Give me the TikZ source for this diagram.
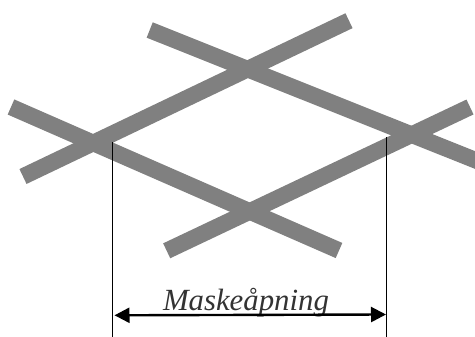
\documentclass[tikz,border=0pt]{standalone}
\usepackage{fontspec}
\setmainfont{Liberation Serif}
\usetikzlibrary{arrows.meta}
\tikzset{
  bar/.style={draw=barGray,line width=16.5pt,line cap=butt},
  guide/.style={draw=black,line width=1.2pt},
  dim/.style={draw=black,line width=2.4pt,{Triangle[length=15pt,width=15pt]}-{Triangle[length=15pt,width=15pt]},shorten <=0pt,shorten >=0pt},
  lbl/.style={inner sep=0pt,anchor=base,text=black!80,font=\fontsize{30.8}{32}\selectfont\itshape}
}
\definecolor{barGray}{RGB}{128,128,128}
\begin{document}
\begin{tikzpicture}[x=1pt,y=-1pt]
\useasboundingbox (0,0) rectangle (475,337);
\clip (0,0) rectangle (475,337);
\coordinate (a1) at (23,176.5);
\coordinate (a2) at (349,20.7);
\coordinate (b1) at (149.7,30);
\coordinate (b2) at (490,166);
\coordinate (c1) at (11,107);
\coordinate (c2) at (339,250.5);
\coordinate (d1) at (166.7,250.8);
\coordinate (d2) at (470,107);
\coordinate (g1t) at (112.8,142);
\coordinate (g1b) at (112.8,337);
\coordinate (g2t) at (386.4,137);
\coordinate (g2b) at (386.4,337);
\coordinate (dl) at (114.5,315.3);
\coordinate (dr) at (386,314.5);
\draw[bar] (a1) -- (a2);
\draw[bar] (b1) -- (b2);
\draw[bar] (c1) -- (c2);
\draw[bar] (d1) -- (d2);
\draw[guide] (g1t) -- (g1b);
\draw[guide] (g2t) -- (g2b);
\node[lbl] (label) at (246,310.5) {Maskeåpning};
\draw[dim] (dl) -- (dr);
\end{tikzpicture}
\end{document}
